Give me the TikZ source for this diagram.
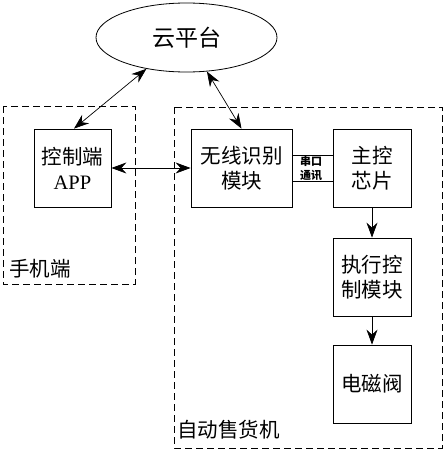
\documentclass[tikz,border=0pt]{standalone}
\usepackage{fontspec}
\setmainfont{Noto Sans CJK SC}
\newfontfamily\latn{Liberation Serif}
\usetikzlibrary{shapes.geometric,arrows.meta,calc}
\begin{document}
\begin{tikzpicture}[x=1pt,y=-1pt,
  blk/.style={draw,line width=0.8pt,rectangle,inner sep=0pt,minimum width=78pt,minimum height=78pt,align=center,font=\fontsize{20.5}{25}\selectfont},
  grp/.style={draw,line width=0.8pt,dash pattern=on 7pt off 4pt},
  tip/.tip={Stealth[length=15pt,width=11pt,inset=5pt]},
  arr/.style={line width=0.7pt,tip-tip},
  sarr/.style={line width=0.7pt,-tip},
  lbl/.style={font=\fontsize{20.5}{22}\selectfont,inner sep=0pt,anchor=west},
  small/.style={font=\fontsize{11}{12}\selectfont\bfseries,inner sep=0pt}]
\useasboundingbox (0,0) rectangle (445,450);
\draw[grp] (3,106) rectangle (135,284);
\draw[grp] (174,107) rectangle (442,448);
\node[draw,line width=0.8pt,ellipse,minimum width=181pt,minimum height=69pt,inner sep=0pt,font=\fontsize{23}{24}\selectfont] (cloud) at (186.5,37.5) {云平台};
\node[blk,minimum width=77pt] (app) at (72.5,168) {控制端\\{\latn APP}};
\node[blk,minimum width=101pt] (wl) at (241.5,168) {无线识别\\模块};
\node[blk] (chip) at (372,168) {主控\\芯片};
\node[blk] (exec) at (372,277) {执行控\\制模块};
\node[blk] (valve) at (372,384) {电磁阀};
\node[lbl] (phone) at (9,269) {手机端};
\node[lbl] (vend) at (177,430) {自动售货机};
\draw[arr] (cloud.218.6) -- ($(app.north)+(1.5,0)$);
\draw[arr] (cloud.301) -- (wl.north);
\draw[arr] (app.east) -- (wl.west);
\draw[line width=0.7pt] ($(wl.east)+(0,-13)$) -- ($(chip.west)+(0,-13)$);
\draw[line width=0.7pt] ($(wl.east)+(0,13)$) -- ($(chip.west)+(0,13)$);
\node[small] (s1) at (311,161) {串口};
\node[small] (s2) at (311,176) {通讯};
\draw[sarr] (chip.south) -- (exec.north);
\draw[sarr] (exec.south) -- (valve.north);
\end{tikzpicture}
\end{document}
